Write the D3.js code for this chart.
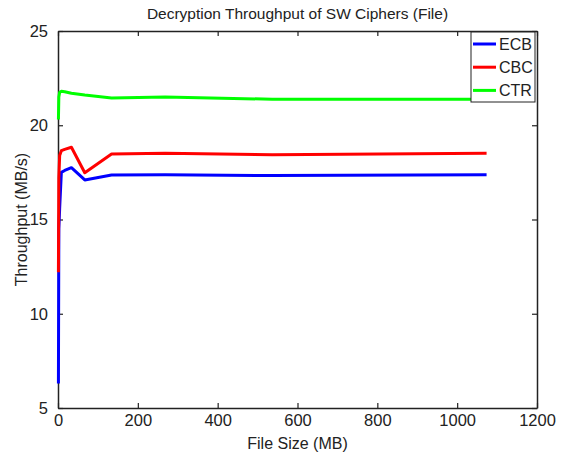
<!DOCTYPE html>
<html>
<head>
<meta charset="utf-8">
<script src="https://cdn.jsdelivr.net/npm/d3@7"></script>
<style>
  body { margin: 0; background: #fff; }
  text { font-family: "Liberation Sans", Arial, sans-serif; fill: #222; }
</style>
</head>
<body>
<svg id="chart"></svg>
<script>
// file sizes in MB (2^n MiB)
const fileSizes = [1.05, 2.1, 4.19, 8.39, 16.8, 33.6, 67.1, 134.2, 268.4, 536.9, 1073.7];
const ecb = [6.3, 14.5, 15.6, 17.5, 17.6, 17.75, 17.1, 17.36, 17.38, 17.33, 17.38];
const cbc = [12.2, 17.2, 18.4, 18.65, 18.72, 18.83, 17.48, 18.47, 18.51, 18.43, 18.51];
const ctr = [20.3, 21.5, 21.75, 21.8, 21.78, 21.7, 21.6, 21.45, 21.5, 21.38, 21.38];
const seriesNames = ["ECB", "CBC", "CTR"];
const xTicks = [0, 200, 400, 600, 800, 1000, 1200];
const yTicks = [5, 10, 15, 20, 25];

const width = 566;
const height = 459;
const margin = { top: 31, right: 29, bottom: 51, left: 58 };

const svg = d3.select("#chart")
  .attr("width", width)
  .attr("height", height);

const xScale = d3.scaleLinear()
  .domain([0, 1200])
  .range([margin.left, width - margin.right]);

const yScale = d3.scaleLinear()
  .domain([5, 25])
  .range([height - margin.bottom, margin.top]);

const colorScale = d3.scaleOrdinal()
  .domain(seriesNames)
  .range(["#0000ff", "#ff0000", "#00ff00"]);

// axes, matlab style: ticks inside, box on
const styleAxis = g => {
  g.select(".domain").attr("stroke", "#222").attr("stroke-width", 1.5);
  g.selectAll(".tick line").attr("stroke", "#222").attr("stroke-width", 1.2);
  g.selectAll(".tick text").style("font-size", "16.5px").attr("fill", "#222");
};

svg.append("g")
  .attr("transform", `translate(0, ${height - margin.bottom})`)
  .call(d3.axisBottom(xScale).tickValues(xTicks).tickFormat(d3.format("d"))
    .tickSizeInner(-5).tickSizeOuter(0).tickPadding(6))
  .call(styleAxis);

svg.append("g")
  .attr("transform", `translate(0, ${margin.top})`)
  .call(d3.axisTop(xScale).tickValues(xTicks).tickSizeInner(-5).tickSizeOuter(0).tickFormat(""))
  .call(styleAxis);

svg.append("g")
  .attr("transform", `translate(${margin.left},0)`)
  .call(d3.axisLeft(yScale).tickValues(yTicks).tickSizeInner(-5).tickSizeOuter(0).tickPadding(10))
  .call(styleAxis);

svg.append("g")
  .attr("transform", `translate(${width - margin.right},0)`)
  .call(d3.axisRight(yScale).tickValues(yTicks).tickSizeInner(-5).tickSizeOuter(0).tickFormat(""))
  .call(styleAxis);

// titles
svg.append("text")
  .attr("x", (margin.left + width - margin.right) / 2)
  .attr("y", 19)
  .attr("text-anchor", "middle")
  .style("font-size", "15.5px")
  .text("Decryption Throughput of SW Ciphers (File)");

svg.append("text")
  .attr("x", (margin.left + width - margin.right) / 2)
  .attr("y", height - 10)
  .attr("text-anchor", "middle")
  .style("font-size", "16px")
  .text("File Size (MB)");

svg.append("text")
  .attr("transform", "rotate(-90)")
  .attr("x", -(margin.top + height - margin.bottom) / 2)
  .attr("y", 27)
  .attr("text-anchor", "middle")
  .style("font-size", "16px")
  .text("Throughput (MB/s)");

// lines
const series = [ecb, cbc, ctr].map((vals, i) => ({
  key: seriesNames[i],
  values: vals.map((v, j) => ({ x: fileSizes[j], y: v }))
}));

const line = d3.line()
  .x(d => xScale(d.x))
  .y(d => yScale(d.y));

svg.selectAll("path.series")
  .data(series)
  .enter()
  .append("path")
  .attr("class", "series")
  .attr("fill", "none")
  .attr("stroke", d => colorScale(d.key))
  .attr("stroke-width", 3)
  .attr("stroke-linejoin", "round")
  .attr("d", d => line(d.values));

// legend
const legend = svg.append("g")
  .attr("transform", `translate(${width - margin.right - 66}, ${margin.top + 1})`);

legend.append("rect")
  .attr("width", 64)
  .attr("height", 70)
  .attr("fill", "#fff")
  .attr("stroke", "#222")
  .attr("stroke-width", 1);

const items = legend.selectAll("g.item")
  .data(seriesNames)
  .enter()
  .append("g")
  .attr("class", "item")
  .attr("transform", (d, i) => `translate(0, ${12 + i * 23.2})`);

items.append("line")
  .attr("x1", 2)
  .attr("x2", 25)
  .attr("stroke", d => colorScale(d))
  .attr("stroke-width", 3);

items.append("text")
  .attr("x", 28)
  .attr("y", 6)
  .style("font-size", "16px")
  .text(d => d);
</script>
</body>
</html>
